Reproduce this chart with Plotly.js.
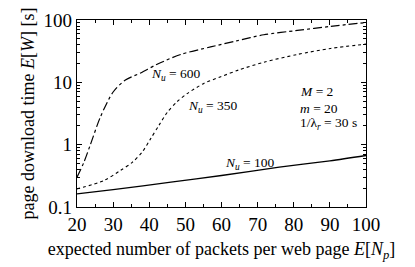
<!DOCTYPE html>
<html>
<head>
<meta charset="utf-8">
<script src="https://cdn.plot.ly/plotly-3.0.1.min.js"></script>
<style>html,body{margin:0;padding:0;background:#fff;}#chart{width:415px;height:267px;}</style>
</head>
<body>
<div id="chart"></div>
<script>
// Expected number of packets per web page E[N_p]
const x600 = [20, 21.9, 23.7, 26.5, 30, 33.4, 37.6, 42.2, 48.7, 57, 64, 71.7, 81, 90.2, 100];
const y600 = [0.30, 0.52, 1.0, 2.8, 7.0, 10.9, 14.1, 19.5, 28, 37, 46, 58, 68, 79, 91];

const x350 = [20, 27.4, 32, 35.3, 38.1, 40.4, 42.7, 45, 47.7, 50.5, 55.1, 59.8, 64.8, 71.7, 81, 90.2, 100];
const y350 = [0.195, 0.265, 0.385, 0.52, 0.77, 1.25, 2.05, 3.3, 4.9, 6.6, 9.6, 12.3, 15.8, 21, 28, 35, 41];

const x100 = [20, 30, 46, 60, 76, 90, 100];
const y100 = [0.162, 0.19, 0.25, 0.32, 0.435, 0.55, 0.67];

const xTicks = [20, 30, 40, 50, 60, 70, 80, 90, 100];
const yTickVals = [0.1, 1, 10, 100];
const yTickText = ['0.1', '1', '10', '100'];

const FONT = '"Liberation Serif", "Times New Roman", serif';

const traces = [
  {x: x600, y: y600, mode: 'lines', line: {color: '#000', width: 1.2, dash: 'dashdot', shape: 'spline', smoothing: 0.8}, hoverinfo: 'skip'},
  {x: x350, y: y350, mode: 'lines', line: {color: '#000', width: 1.1, dash: 'dot', shape: 'spline', smoothing: 0.8}, hoverinfo: 'skip'},
  {x: x100, y: y100, mode: 'lines', line: {color: '#000', width: 1.3, dash: 'solid', shape: 'spline', smoothing: 0.8}, hoverinfo: 'skip'}
];

const labelFont = {family: FONT, size: 13.5, color: '#000'};

const layout = {
  width: 415, height: 267,
  margin: {l: 77, r: 49, t: 20, b: 60},
  paper_bgcolor: '#fff', plot_bgcolor: '#fff',
  showlegend: false,
  font: {family: FONT, size: 18, color: '#000'},
  xaxis: {
    range: [20, 100], tickvals: xTicks, ticks: 'inside', ticklen: 5, tickwidth: 1,
    tickcolor: '#000', showgrid: false, zeroline: false, showline: true, linecolor: '#000', linewidth: 1.3,
    mirror: 'allticks',
    minor: {dtick: 5, tick0: 20, ticks: 'inside', ticklen: 3, tickcolor: '#000', showgrid: false},
    tickfont: {family: FONT, size: 19},
    title: {text: 'expected number of packets per web page <i>E</i>[<i>N<sub>p</sub></i>]', font: {family: FONT, size: 18}, standoff: 8}
  },
  yaxis: {
    type: 'log', range: [-1, 2], tickvals: yTickVals, ticktext: yTickText, ticks: 'inside', ticklen: 5,
    tickcolor: '#000', showgrid: false, zeroline: false, showline: true, linecolor: '#000', linewidth: 1.3,
    mirror: 'allticks',
    minor: {dtick: 'D1', ticks: 'inside', ticklen: 3, tickcolor: '#000', showgrid: false},
    tickfont: {family: FONT, size: 19},
    title: {text: 'page download time <i>E</i>[<i>W</i>] [s]', font: {family: FONT, size: 18}, standoff: 4}
  },
  annotations: [
    {x: 39.8, y: Math.log10(13.5), xref: 'x', yref: 'y', text: '<i>N<sub>u</sub></i> = 600', showarrow: false, xanchor: 'left', font: labelFont},
    {x: 50.1, y: Math.log10(4.1), xref: 'x', yref: 'y', text: '<i>N<sub>u</sub></i> = 350', showarrow: false, xanchor: 'left', font: labelFont},
    {x: 60.3, y: Math.log10(0.49), xref: 'x', yref: 'y', text: '<i>N<sub>u</sub></i> = 100', showarrow: false, xanchor: 'left', font: labelFont},
    {x: 81.1, y: Math.log10(7.2), xref: 'x', yref: 'y', text: '<i>M</i> = 2', showarrow: false, xanchor: 'left', font: labelFont},
    {x: 81.1, y: Math.log10(3.8), xref: 'x', yref: 'y', text: '<i>m</i> = 20', showarrow: false, xanchor: 'left', font: labelFont},
    {x: 81.1, y: Math.log10(2.15), xref: 'x', yref: 'y', text: '1/λ<sub><i>r</i></sub> = 30 s', showarrow: false, xanchor: 'left', font: labelFont}
  ]
};

Plotly.newPlot('chart', traces, layout, {staticPlot: true, displayModeBar: false});
</script>
</body>
</html>
